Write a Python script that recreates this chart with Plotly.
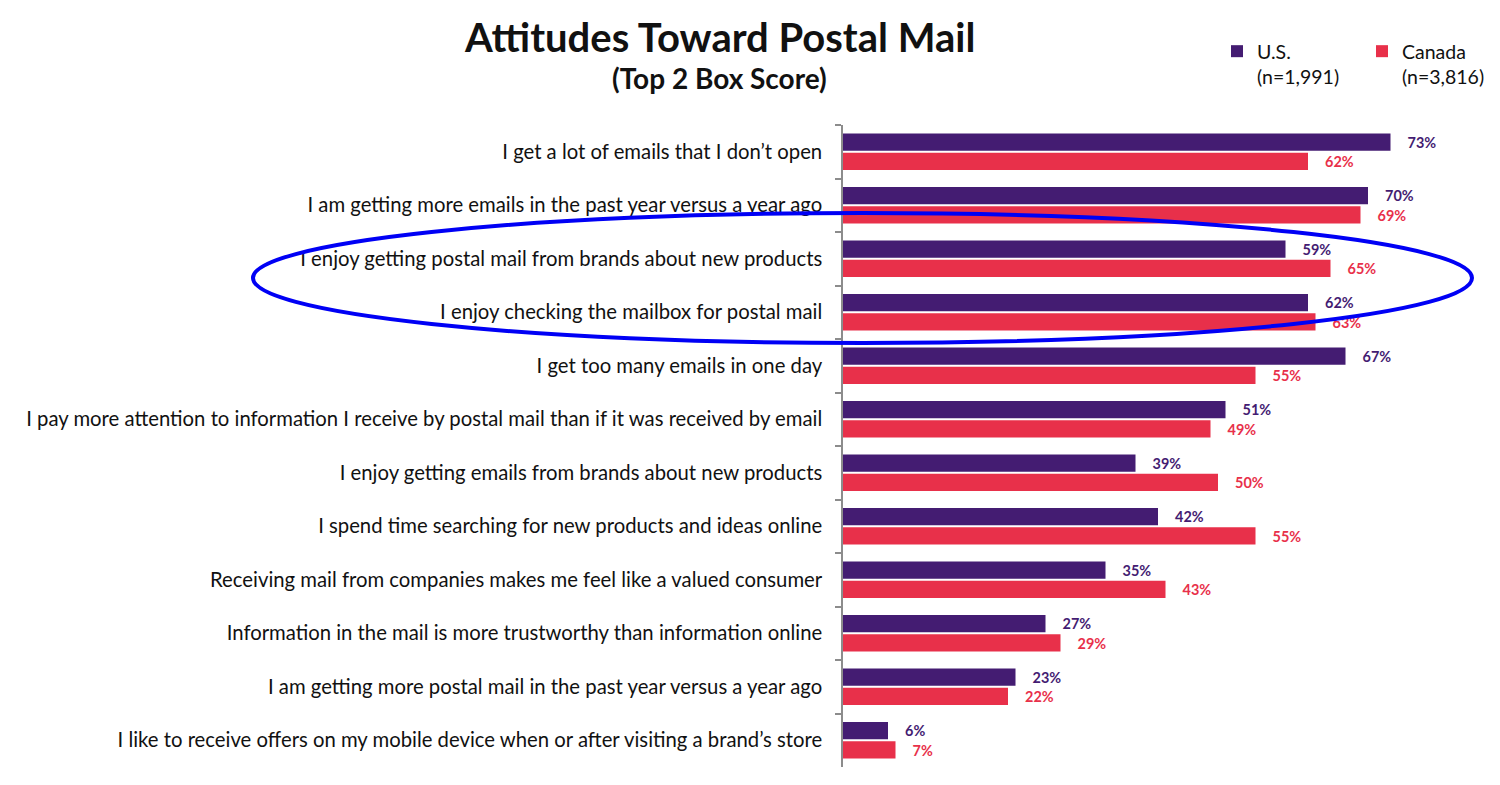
import plotly.graph_objects as go

categories = [
    "I get a lot of emails that I don’t open",
    "I am getting more emails in the past year versus a year ago",
    "I enjoy getting postal mail from brands about new products",
    "I enjoy checking the mailbox for postal mail",
    "I get too many emails in one day",
    "I pay more attention to information I receive by postal mail than if it was received by email",
    "I enjoy getting emails from brands about new products",
    "I spend time searching for new products and ideas online",
    "Receiving mail from companies makes me feel like a valued consumer",
    "Information in the mail is more trustworthy than information online",
    "I am getting more postal mail in the past year versus a year ago",
    "I like to receive offers on my mobile device when or after visiting a brand’s store",
]
us_values = [73, 70, 59, 62, 67, 51, 39, 42, 35, 27, 23, 6]
canada_values = [62, 69, 65, 63, 55, 49, 50, 55, 43, 29, 22, 7]
series_names = ["U.S.<br>(n=1,991)", "Canada<br>(n=3,816)"]

US_COLOR = "#441c72"
CA_COLOR = "#e8304a"
FONT = "Lato"

# plot area geometry (screen px): x0=843, width 600; y bottom=767, height 642
PX0, PW, PYB, PH = 843, 600, 767, 642


def px(sx):
    return (sx - PX0) / PW


def py(sy):
    return (PYB - sy) / PH


fig = go.Figure()
fig.add_trace(go.Bar(
    y=categories, x=us_values, name=series_names[0], orientation="h",
    marker=dict(color=US_COLOR, line=dict(width=0)),
    text=[f"{v}%" for v in us_values], textposition="outside",
    texttemplate="    %{text}",
    textfont=dict(family=FONT, size=15, color=US_COLOR, weight="bold"),
    cliponaxis=False,
))
fig.add_trace(go.Bar(
    y=categories, x=canada_values, name=series_names[1], orientation="h",
    marker=dict(color=CA_COLOR, line=dict(width=0)),
    text=[f"{v}%" for v in canada_values], textposition="outside",
    texttemplate="    %{text}",
    textfont=dict(family=FONT, size=15, color=CA_COLOR, weight="bold"),
    cliponaxis=False,
))

fig.update_layout(
    width=1500, height=785,
    margin=dict(l=835, r=65, t=117, b=26, autoexpand=False),
    paper_bgcolor="white", plot_bgcolor="white",
    barmode="group", bargap=0.28, bargroupgap=0.1,
    font=dict(family=FONT, color="#111111"),
    showlegend=True,
    legend=dict(
        orientation="h", x=px(1507), y=py(32),
        xanchor="right", yanchor="top",
        valign="top", font=dict(family=FONT, size=19.5, color="#111111"),
        entrywidth=100, entrywidthmode="pixels", itemwidth=30,
        traceorder="normal", bgcolor="rgba(0,0,0,0)",
    ),
    xaxis=dict(range=[0, 80], visible=False, showgrid=False, zeroline=False),
    yaxis=dict(
        autorange="reversed", showline=True, linecolor="#8c8c8c", linewidth=1.5,
        ticks="outside", tickson="boundaries", ticklen=6, tickcolor="#8c8c8c",
        tickwidth=1.5, ticklabelstandoff=15, showgrid=False, automargin=False,
        tickfont=dict(family=FONT, size=20.3, color="#111111"),
    ),
    annotations=[
        dict(text="<b>Attitudes Toward Postal Mail</b>", xref="paper", yref="paper",
             x=px(719), y=py(37), xanchor="center", yanchor="middle",
             showarrow=False, font=dict(family=FONT, size=40, color="#111111")),
        dict(text="<b>(Top 2 Box Score)</b>", xref="paper", yref="paper",
             x=px(719), y=py(78), xanchor="center", yanchor="middle",
             showarrow=False, font=dict(family=FONT, size=28, color="#111111")),
    ],
    shapes=[
        dict(type="circle", xref="paper", yref="paper", layer="above",
             x0=px(253), x1=px(1472), y0=py(343), y1=py(213),
             line=dict(color="#0000f5", width=4)),
    ],
)

fig.write_html("out.html")
